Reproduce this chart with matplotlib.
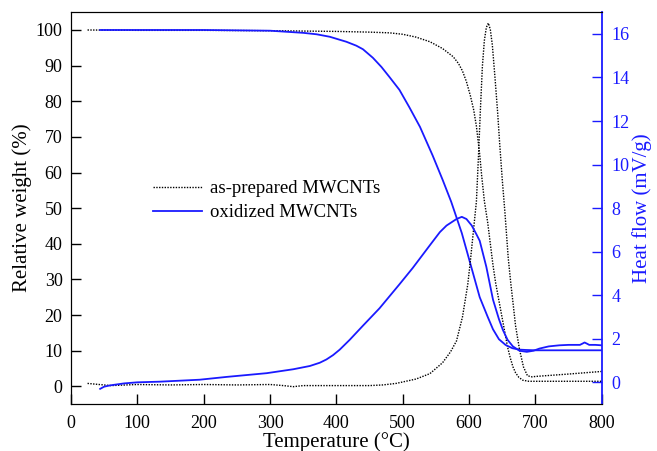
from __future__ import annotations

import matplotlib

matplotlib.use("Agg")

import matplotlib.pyplot as plt

# as-prepared MWCNTs: weight (left axis) and heat flow (right axis)
T_ASP_WEIGHT = [25, 100, 200, 300, 400, 450, 480, 500, 520, 541, 560, 576, 584, 590, 596, 602,
                607, 611, 616, 619, 623, 628, 632, 636, 640, 644, 648, 653, 658, 662, 666, 670,
                675, 681, 690, 700, 750, 800]
ASP_WEIGHT = [100, 99.9, 99.9, 99.8, 99.6, 99.4, 99.2, 98.8, 98.0, 96.7, 94.8, 92.5, 90.6, 88.5,
              85.5, 81.5, 77.5, 73, 65, 59, 52, 46, 40, 34, 29, 25, 21, 16, 11, 8, 5.5, 3.8,
              2.5, 1.7, 1.4, 1.4, 1.4, 1.4]

T_ASP_HEAT = [25, 60, 100, 150, 200, 250, 300, 320, 335, 350, 400, 450, 470, 490, 505, 520,
              541, 560, 572, 581, 590, 598, 602, 606, 611, 614, 617, 620, 623, 626, 629, 632,
              635, 639, 643, 646, 650, 654, 659, 663, 666, 670, 676, 682, 688, 695, 700, 750,
              800]
ASP_HEAT = [-0.05, -0.15, -0.1, -0.12, -0.1, -0.12, -0.1, -0.15, -0.2, -0.15, -0.15, -0.15,
            -0.12, -0.05, 0.05, 0.15, 0.4, 0.9, 1.4, 1.9, 3.0, 4.5, 5.6, 6.8, 8.3, 10.3, 12.5,
            14.5, 15.7, 16.3, 16.5, 16.2, 15.5, 14.0, 12.4, 11.0, 9.3, 7.8, 5.7, 4.5, 3.7,
            2.6, 1.5, 0.7, 0.3, 0.25, 0.27, 0.38, 0.5]

# oxidized MWCNTs
T_OX_WEIGHT = [44, 100, 200, 300, 325, 350, 370, 390, 415, 430, 440, 455, 468, 480, 495, 510,
               526, 545, 560, 573, 589, 604, 616, 628, 636, 645, 655, 665, 675, 685, 700, 750,
               800]
OX_WEIGHT = [100, 100, 100, 99.8, 99.5, 99.2, 98.8, 98.1, 96.7, 95.6, 94.6, 92.2, 89.6, 86.8,
             83.2, 78.3, 72.8, 64.8, 58.0, 51.8, 43, 33, 25, 19.5, 16, 13.2, 11.6, 10.7, 10.3,
             10.2, 10.1, 10.1, 10.1]

T_OX_HEAT = [44, 50, 59, 80, 100, 134, 194, 235, 295, 335, 360, 375, 385, 395, 405, 420, 440,
             465, 480, 495, 515, 541, 556, 566, 581, 589, 596, 604, 611, 616, 626, 636, 645,
             651, 658, 666, 676, 687, 697, 706, 720, 736, 750, 767, 771, 774, 778, 781, 790,
             800]
OX_HEAT = [-0.3, -0.2, -0.14, -0.05, 0.0, 0.03, 0.12, 0.25, 0.42, 0.6, 0.75, 0.9, 1.05, 1.25,
           1.5, 1.95, 2.6, 3.4, 3.95, 4.5, 5.25, 6.3, 6.9, 7.2, 7.5, 7.6, 7.5, 7.2, 6.8, 6.5,
           5.3, 3.8, 2.9, 2.4, 1.95, 1.65, 1.45, 1.4, 1.45, 1.55, 1.65, 1.7, 1.72, 1.72, 1.78,
           1.83, 1.77, 1.72, 1.72, 1.7]

SERIES_LABELS = ["as-prepared MWCNTs", "oxidized MWCNTs"]
X_TICKS = list(range(0, 801, 100))
WEIGHT_TICKS = list(range(0, 101, 10))
HEAT_TICKS = list(range(0, 17, 2))

BLUE = "#1a1aff"


def main() -> int:
    plt.rcParams["font.family"] = ["Liberation Serif", "DejaVu Serif"]
    plt.rcParams["font.size"] = 13

    fig = plt.figure(figsize=(6.57, 4.51), dpi=100)
    ax = fig.add_axes((0.108, 0.104, 0.808, 0.869))
    ax2 = ax.twinx()

    dotted = dict(color="black", linestyle=(0, (1, 1)), linewidth=1.0)
    solid = dict(color=BLUE, linestyle="-", linewidth=1.3)

    (h_asp,) = ax.plot(T_ASP_WEIGHT, ASP_WEIGHT, **dotted)
    (h_ox,) = ax.plot(T_OX_WEIGHT, OX_WEIGHT, **solid)
    ax2.plot(T_ASP_HEAT, ASP_HEAT, **dotted)
    ax2.plot(T_OX_HEAT, OX_HEAT, **solid)

    ax.set_xlim(0, 800)
    ax.set_ylim(-5, 105)
    ax2.set_ylim(-1, 17)
    ax.set_xticks(X_TICKS)
    ax.set_yticks(WEIGHT_TICKS)
    ax2.set_yticks(HEAT_TICKS)

    ax.tick_params(direction="in", length=7, width=1, labelsize=13, top=False, right=False)
    ax.tick_params(axis="x", pad=8)
    ax.tick_params(axis="y", pad=6)
    ax2.tick_params(direction="in", length=7, width=1, labelsize=13, colors=BLUE, pad=7)
    ax2.spines["right"].set_color(BLUE)
    ax2.spines["right"].set_linewidth(1.3)
    ax.spines["right"].set_visible(False)

    ax.set_xlabel("Temperature (\u00b0C)", fontsize=15, labelpad=0)
    ax.set_ylabel("Relative weight (%)", fontsize=15, labelpad=3)
    ax2.set_ylabel("Heat flow (mV/g)", fontsize=15, color=BLUE, labelpad=2)

    ax.legend([h_asp, h_ox], SERIES_LABELS, loc="upper left", bbox_to_anchor=(0.14, 0.59),
              frameon=False, fontsize=13.5, handlelength=2.6, handletextpad=0.45,
              labelspacing=0.35, borderaxespad=0)

    fig.savefig("out.png", dpi=100)
    plt.close(fig)
    return 0


if __name__ == "__main__":
    raise SystemExit(main())
